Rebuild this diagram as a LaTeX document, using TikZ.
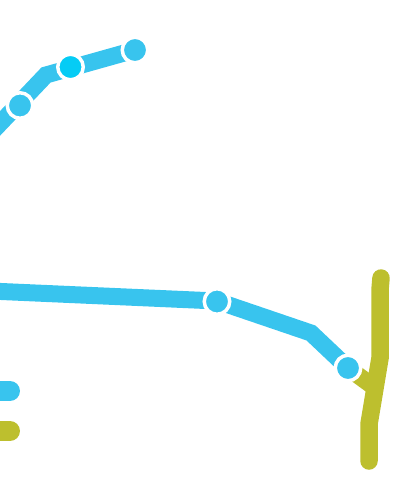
\documentclass[tikz,border=0pt]{standalone}
\usepackage{tikz}
\usepackage{xcolor}
\definecolor{lineblue}{HTML}{38C4EE}
\definecolor{stopblue}{HTML}{05CCF5}
\definecolor{lineolive}{HTML}{BDBF2E}

\begin{document}
\begin{tikzpicture}[
    x=1pt, y=-1pt,
    stop/.style={circle, draw=white, fill=lineblue, line width=3.5pt, minimum size=25.5pt, inner sep=0pt},
    blueline/.style={draw=lineblue, line width=17pt, line join=miter},
    oliveline/.style={draw=lineolive, line width=17.5pt, line join=miter, line cap=round},
    legendbar/.style={line width=20pt, line cap=round}
]
    \clip (0,0) rectangle (400,482);
    \useasboundingbox (0,0) rectangle (400,482);

    % Upper blue line
    \coordinate (upstart) at (-30,155);
    \coordinate (upbend) at (46,75);
    \coordinate (upend) at (135,50);

    % Lower blue line
    \coordinate (lowstart) at (-10,291);
    \coordinate (lowbend) at (311,333);

    % Olive line
    \coordinate (olivetop) at (381,278);
    \coordinate (olivea) at (380,290);
    \coordinate (oliveb) at (380,358);
    \coordinate (olivec) at (369,424);
    \coordinate (olivebot) at (369,461);
    \coordinate (olivefork) at (374,387);

    % Legend
    \coordinate (legbluea) at (-20,391);
    \coordinate (legblueb) at (10,391);
    \coordinate (legolivea) at (-20,431);
    \coordinate (legoliveb) at (10,431);

    % Stops
    \coordinate (stope) at (348,368);

    % Lines
    \draw[oliveline] (olivetop) -- (olivea) -- (oliveb) -- (olivec) -- (olivebot);
    \draw[draw=lineolive, line width=17pt] (stope) -- (olivefork);
    \draw[blueline] (upstart) -- (upbend) -- (upend);
    \draw[blueline] (lowstart) -- (217,301) -- (lowbend) -- (stope);
    \draw[legendbar, lineblue] (legbluea) -- (legblueb);
    \draw[legendbar, lineolive] (legolivea) -- (legoliveb);

    \node[stop] (stopa) at (20,105.5) {};
    \node[stop, fill=stopblue] (stopb) at (70.5,67) {};
    \node[stop] (stopc) at (135,50) {};
    \node[stop] (stopd) at (217,301.5) {};
    \node[stop] (stopf) at (stope) {};
\end{tikzpicture}
\end{document}
